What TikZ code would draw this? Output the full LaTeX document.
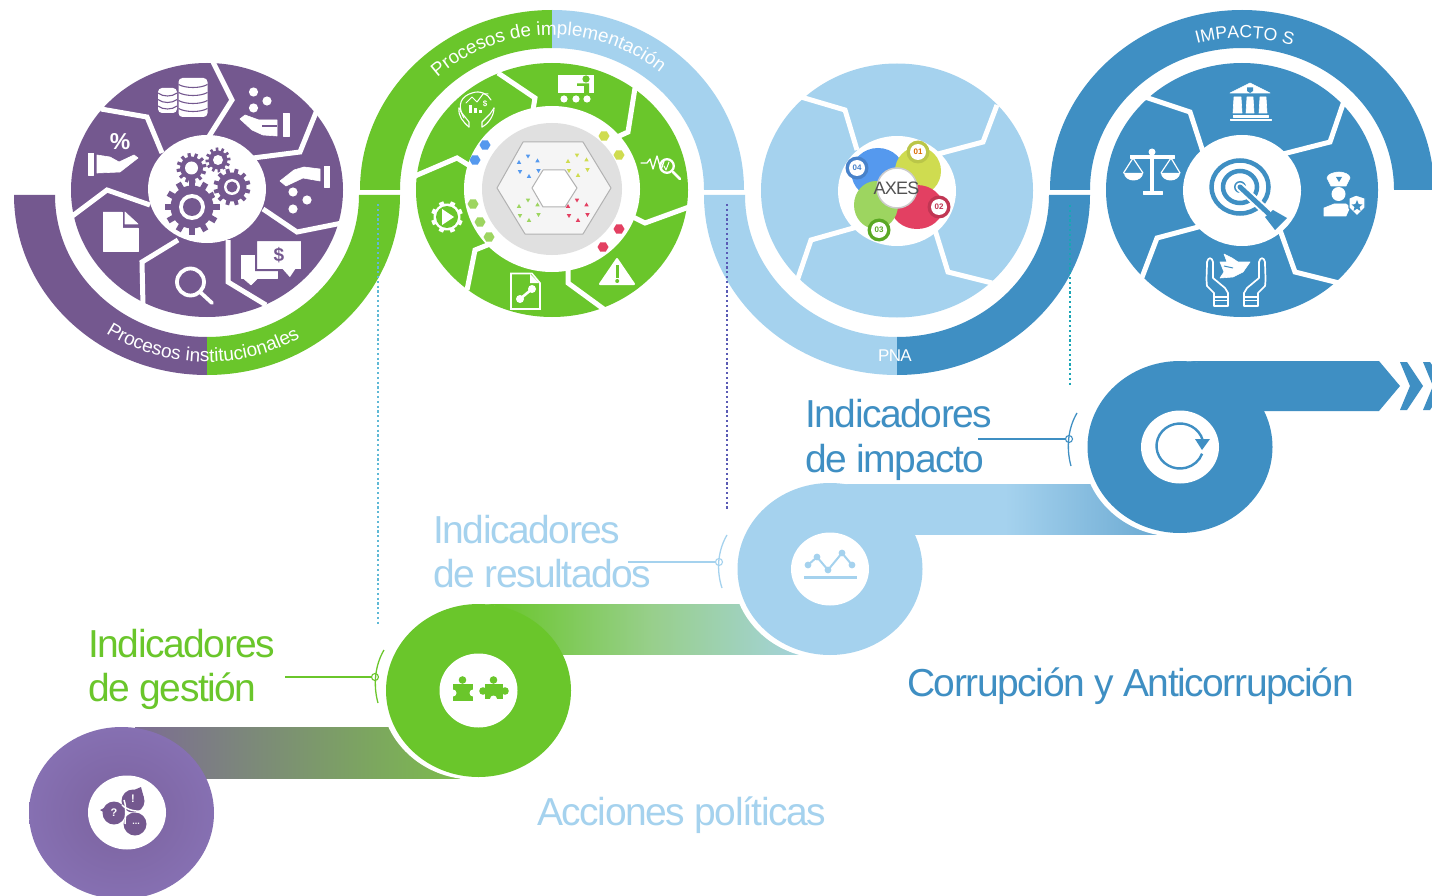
\documentclass[tikz,border=0pt]{standalone}
\usepackage{fontspec}
\setmainfont{Liberation Sans}
\newfontfamily\tight[LetterSpace=-3.7]{Liberation Sans}
\newfontfamily\tighter[LetterSpace=-4]{Liberation Sans}
\usetikzlibrary{decorations.text}
\definecolor{cpur}{HTML}{74588F}
\definecolor{cgre}{HTML}{6AC62B}
\definecolor{clbl}{HTML}{A5D2EE}
\definecolor{cdbl}{HTML}{3F8FC3}
\definecolor{chblue}{HTML}{5599EE}
\definecolor{chyel}{HTML}{CFDC50}
\definecolor{chred}{HTML}{E34062}
\definecolor{chgre}{HTML}{9DD560}
\definecolor{gone}{HTML}{5FB9D6}
\definecolor{gtwo}{HTML}{5B5BB5}
\definecolor{gthree}{HTML}{1AA5B5}
\tikzset{
  sep/.style={draw=white,line width=5pt,line join=miter,line cap=butt},
  ic/.style={fill=white,draw=white,line width=.6pt,line join=round},
  icl/.style={draw=white,line width=#1,line cap=round,line join=round},
  bigtext/.style={font=\fontsize{39}{39}\selectfont\tight,anchor=base west,inner sep=0pt},
  leader/.style={line width=1.3pt},
  ldot/.style={circle,draw=#1,fill=white,line width=1.1pt,minimum size=7pt,inner sep=0pt},
  vdots/.style={line width=1.2pt,dash pattern=on 2.2pt off 2.6pt},
}
\newcommand\band[9]{\fill[#9] ({#1+#3*cos(#7)},{#2-#4*sin(#7)}) arc[start angle=#7,end angle=#8,x radius=#3pt,y radius=#4pt] -- ({#1+#5*cos(#8)},{#2-#6*sin(#8)}) arc[start angle=#8,end angle=#7,x radius=#5pt,y radius=#6pt] -- cycle;}
\newcommand\arctext[8]{\path[decorate,decoration={text along path,text align=center,text={|\fontsize{#7}{#7}\selectfont\color{white}|#8}}] ({#1+#3*cos(#5)},{#2-#4*sin(#5)}) arc[start angle=#5,end angle=#6,x radius=#3pt,y radius=#4pt];}
\newcommand\ovl[5]{\fill[#5] (#1,#2) ellipse[x radius=#3pt,y radius=#4pt];}
\newcommand\gear[6]{% x y R body ring rotation
  \foreach \a in {0,30,60,90,120,150}{\fill[cpur,rotate around={\a+#6:(#1,#2)}] ({#1-#3*.105},{#2-#3}) rectangle ({#1+#3*.105},{#2+#3});}
  \fill[cpur] (#1,#2) circle[radius=#4pt];
  \fill[white] (#1,#2) circle[radius=#5pt];}
\newcommand\hexa[4]{\fill[#4] ({#1-#3},#2) -- ({#1-#3/2},{#2-#3*.85}) -- ({#1+#3/2},{#2-#3*.85}) -- ({#1+#3},#2) -- ({#1+#3/2},{#2+#3*.85}) -- ({#1-#3/2},{#2+#3*.85}) -- cycle;}
\newcommand\triu[3]{\fill[#3] ({#1-2.2},{#2+1.8}) -- (#1,{#2-2}) -- ({#1+2.2},{#2+1.8}) -- cycle;}
\newcommand\trid[3]{\fill[#3] ({#1-2.2},{#2-1.8}) -- (#1,{#2+2}) -- ({#1+2.2},{#2-1.8}) -- cycle;}
\newcommand\cluster[3]{\triu{#1}{#2}{#3}\trid{#1+9}{#2-5.5}{#3}\triu{#1+18.5}{#2-1.5}{#3}\trid{#1+1}{#2+10}{#3}\triu{#1+10}{#2+14}{#3}\trid{#1+19.5}{#2+9}{#3}}
\newcommand\badge[6]{\fill[#3] (#1,#2) circle[radius=11.5pt];\fill[white] ({#1},{#2}) circle[radius=8pt];\node[font=\bfseries\fontsize{8}{8}\selectfont,text=#4,inner sep=0pt] (#5) at (#1,#2) {#6};}
\begin{document}
\begin{tikzpicture}[x=1pt,y=-1pt]
\useasboundingbox (0,0) rectangle (1432,896);
\fill[white] (0,0) rectangle (1432,896);

% ===== outer bands
\band{207}{195}{193}{180}{152}{142}{180}{270}{cpur}
\band{207}{195}{193}{180}{152}{142}{270}{360}{cgre}
\band{552}{190}{192}{180}{152}{142}{90}{180}{cgre}
\band{552}{190}{192}{180}{152}{142}{0}{90}{clbl}
\band{897}{195}{193}{180}{152}{142}{180}{270}{clbl}
\band{897}{195}{193}{180}{152}{142}{270}{360}{cdbl}
\band{1242}{190}{192}{180}{152}{142}{0}{180}{cdbl}

% ===== band texts
\arctext{207}{195}{179}{167}{232}{305}{19}{Procesos institucionales}
\arctext{552}{190}{166}{155}{142}{41}{18.8}{Procesos de implementación}
\arctext{1242}{190}{163}{152}{114}{64}{17.6}{IMPACTO S}
\node[font=\fontsize{17}{17}\selectfont\tighter,text=white,inner sep=0pt] (pna) at (895,356) {PNA};

% ===== pies
\ovl{207}{190}{136}{127}{cpur}
\ovl{552}{190}{136}{127}{cgre}
\ovl{897}{190.5}{136}{127}{clbl}
\ovl{1242}{190}{136}{127}{cdbl}

% separators pie 1
\draw[sep] (213,62)--(232,100)--(208,138);
\draw[sep] (317,110)--(300,152)--(253,158);
\draw[sep] (342,223)--(297,232)--(263,209);
\draw[sep] (266,305)--(228,282)--(228,240);
\draw[sep] (143,306)--(142,262)--(178,240);
\draw[sep] (71,217)--(107,190)--(150,205);
\draw[sep] (101,109)--(147,117)--(162,153);
\ovl{207}{189}{59}{54}{white}
% separators pie 2
\draw[sep] (498,73)--(535,98)--(533,110);
\draw[sep] (635,88)--(628,132)--(615,138);
\draw[sep] (689,207)--(645,223)--(631,216);
\draw[sep] (605,310)--(568,283)--(568,266);
\draw[sep] (467,290)--(475,250)--(490,244);
\draw[sep] (415,176)--(457,158)--(470,166);
\ovl{552}{189}{88}{83}{white}
% separators pie 3
\draw[sep] (801,97)--(845,110)--(857,150);
\draw[sep] (997,105)--(983,142)--(938,154);
\draw[sep] (992,283)--(948,272)--(935,230);
\draw[sep] (796,284)--(811,240)--(857,227);
\ovl{897}{191}{59}{55}{white}
% separators pie 4
\draw[sep] (1145,97)--(1190,112)--(1203,152);
\draw[sep] (1344,101)--(1330,142)--(1283,154);
\draw[sep] (1339,283)--(1295,272)--(1280,230);
\draw[sep] (1141,280)--(1157,238)--(1202,226);
\ovl{1242}{190.5}{59}{55.5}{white}

% ===== pie 1 icons
% coins
\foreach \cx/\top/\bot/\rx in {193/78/117/14.5,167.5/88/113/9.5}{
  \fill[white,rounded corners=4pt] ({\cx-\rx},\top) rectangle ({\cx+\rx},\bot);
}
\foreach \cx/\yy/\rx in {193/86/14.5,193/94/14.5,193/102/14.5,193/110/14.5,167.5/94.5/9.5,167.5/101/9.5,167.5/107.5/9.5}{
  \draw[cpur,line width=1.1pt] ({\cx-\rx},{\yy-1.5}) .. controls ({\cx-\rx/2},{\yy+2.5}) and ({\cx+\rx/2},{\yy+2.5}) .. ({\cx+\rx},{\yy-1.5});
}
% hand with dots above
\foreach \p in {(253.5,92),(267,101),(253.5,108)}{\fill[white] \p circle[radius=4.6pt];}
\fill[ic] (240,119) -- (245,115) -- (259,120) -- (277,120) -- (277,136) -- (263,135) -- (252,130) -- cycle;
\fill[cpur] (262,125) rectangle (277,127);
\fill[ic] (283,113) rectangle (289,136);
% hand with falling dots
\fill[ic] (280,181) -- (294,170) -- (304,167) -- (320,169) -- (320,181) -- (303,178) -- (286,186) -- cycle;
\fill[ic] (324,166) rectangle (329.5,187);
\foreach \p in {(293,192),(307,200),(293,209)}{\fill[white] \p circle[radius=4.6pt];}
% chat $
\fill[ic] (241,255) rectangle (277,278);
\fill[ic] (243,278) -- (251,285) -- (258,278) -- cycle;
\fill[white,draw=cpur,line width=2pt] (256,240) -- (302,240) -- (302,270) -- (296,270) -- (290,279) -- (282,270) -- (256,270) -- cycle;
\node[font=\bfseries\fontsize{19}{19}\selectfont,text=cpur,inner sep=0pt] (dollar) at (279,255) {\$};
% magnifier
\draw[icl=3.8pt] (190.5,282) circle[radius=13.5pt];
\draw[icl=3.8pt] (200,292) -- (212,303);
% document
\fill[ic] (103,212) -- (122,212) -- (122,228) -- (138,228) -- (138,251) -- (103,251) -- cycle;
\fill[ic] (125,212) -- (138,224) -- (125,224) -- cycle;
% percent hand
\fill[ic] (88,153) rectangle (93.5,175);
\fill[ic] (97,155) -- (110,157) -- (119,162) -- (134,155) -- (138,158) -- (120,172) -- (97,173) -- cycle;
\node[font=\bfseries\fontsize{23}{23}\selectfont,text=white,inner sep=0pt] (pct) at (120,142) {\%};
% gears
\gear{192}{207}{27.5}{21.5}{13}{0}\fill[cpur] (192,207) circle[radius=9pt];
\gear{191.5}{168}{15}{11.5}{6.5}{10}
\gear{218}{160}{12.5}{9.5}{5}{5}
\fill[white] (232,187) circle[radius=19.5pt];
\gear{232}{187}{18.5}{14.5}{8}{15}
\fill[cpur] (232,187) circle[radius=5.5pt];

% ===== pie 2 centre
\ovl{552}{189}{70}{66}{black!12}
\fill[black!4,draw=black!30,line width=1pt,line join=round] (497,188)--(523,142)--(583,142)--(611,188)--(583,234)--(525,234)--cycle;
\cluster{519}{162}{chblue}
\cluster{568}{161}{chyel}
\cluster{519}{206}{chgre}
\cluster{568}{206}{chred}
\fill[white,draw=black!30,line width=1pt,line join=round] (532,188)--(543,170)--(565,170)--(577,188)--(565,207)--(543,207)--cycle;
\hexa{485}{145}{5.5}{chblue}\hexa{475}{160}{5.5}{chblue}
\hexa{604}{136}{5.5}{chyel}\hexa{619}{155}{5.5}{chyel}
\hexa{619}{229}{5.5}{chred}\hexa{603}{247}{5.5}{chred}
\hexa{473}{204}{5.5}{chgre}\hexa{480}{222}{5.5}{chgre}\hexa{489}{237}{5.5}{chgre}
% board
\fill[white] (558,75) rectangle (593.5,93);
\fill[cgre] (586,79) circle[radius=3.6pt];
\fill[cgre] (577,83.5) -- (583,83.5) -- (589,83.5) -- (589,93) -- (584,93) -- (584,86) -- (577,86) -- cycle;
\foreach \xx in {564,576,587}{\fill[white] (\xx,99) circle[radius=3.6pt];}
% globe hands
\draw[icl=1.1pt] (464,118) .. controls (456,104) and (462,96) .. (472,93) .. controls (480,90) and (488,94) .. (491,100);
\draw[icl=1.1pt] (469,127) -- (469,122) -- (461,112) -- (459,108) ;
\draw[icl=1.1pt] (469,127) .. controls (463,122) and (458,116) .. (459,108);
\draw[icl=1.1pt] (482,127) -- (482,122) -- (490,114) -- (494,108);
\draw[icl=1.1pt] (482,127) .. controls (488,124) and (494,116) .. (494,108);
\fill[white] (469,105) rectangle (472,113);\fill[white] (474,108) rectangle (477,113);\fill[white] (479,110) rectangle (482,113);
\draw[icl=1pt] (466,103) -- (472,97) -- (477,102) -- (483,94) -- (488,94);
\node[font=\bfseries\fontsize{8}{8}\selectfont,text=white,inner sep=0pt] (gd) at (485,104) {\$};
% wave & lens
\draw[icl=1.3pt] (641,163) -- (647,163) -- (650,159) -- (653,169) -- (657,156) -- (661,170) -- (664,161);
\draw[icl=2.3pt] (667,166) circle[radius=6.8pt];
\draw[icl=2.6pt] (673,172) -- (680,179);
\draw[icl=1pt] (664,166) -- (666,170) -- (669,162);
% warning
\fill[ic,line width=2pt] (617,259) -- (634,284) -- (600,284) -- cycle;
\fill[cgre] (615.5,265) rectangle (619,278);\fill[cgre] (617.2,281) circle[radius=2pt];
% doc link
\draw[icl=1.6pt,line join=miter] (511,273.5) -- (532,273.5) -- (540,283) -- (540,309) -- (511,309) -- cycle;
\fill[white] (530,274) -- (530,283) -- (539,283) -- cycle;
\draw[icl=2.6pt] (520,299) -- (532,289);
\fill[white] (520,299) circle[radius=4pt];\fill[white] (532,289) circle[radius=4pt];
% gear play
\foreach \a in {0,45,90,135}{\fill[white,rotate around={\a+22:(447,217)}] (444.6,201) rectangle (449.4,233);}
\fill[white] (447,217) circle[radius=13.5pt];
\fill[cgre] (447,217) circle[radius=11pt];
\fill[white] (442,209) -- (454,217) -- (442,225) -- cycle;

% ===== AXES cluster
\fill[chblue] (878,173) ellipse[x radius=26.5pt,y radius=25pt];
\fill[chyel] (918,171) ellipse[x radius=23pt,y radius=24pt];
\fill[chred] (917,207) ellipse[x radius=26pt,y radius=22pt];
\fill[chgre] (876,205) ellipse[x radius=22pt,y radius=24pt];
\fill[white,draw=black!20,line width=1.5pt] (897,188) circle[radius=20pt];
\node[font=\fontsize{18}{18}\selectfont\tighter,text=black!68,inner sep=0pt] (axes) at (896.5,188.5) {AXES};
\badge{918}{152}{chyel!90!black}{orange!85!black}{b1}{01}
\badge{939}{207}{chred!85!black}{chred!85!black}{b2}{02}
\badge{879}{230}{cgre!85!black}{cgre!85!black}{b3}{03}
\badge{857}{168}{chblue!85!black}{chblue!85!black}{b4}{04}

% ===== pie 4 icons
% bank
\fill[ic] (1230,93) -- (1250,83) -- (1270,93) -- cycle;
\fill[cdbl] (1247,87.5) -- (1253,87.5) -- (1253,91) -- (1250,93) -- (1247,91) -- cycle;
\fill[ic] (1234,97) -- (1241,97) -- (1242,113) -- (1233,113) -- cycle;
\fill[ic] (1247,97) -- (1253,97) -- (1254,113) -- (1246,113) -- cycle;
\fill[ic] (1260,97) -- (1266,97) -- (1267,113) -- (1259,113) -- cycle;
\fill[ic] (1233,115) rectangle (1268,117);
\fill[ic] (1230,119) rectangle (1271,120.5);
% scales
\fill[ic] (1150.5,152) rectangle (1153.5,191);
\fill[white] (1152,152) circle[radius=3.5pt];
\fill[ic] (1130,155) rectangle (1174,158);
\fill[ic] (1143,191) rectangle (1162,194);
\draw[icl=1.2pt] (1123.5,173) -- (1133,158) -- (1143,173);
\draw[icl=1.2pt] (1161,173) -- (1171,158) -- (1180,173);
\fill[white] (1124,173) arc[start angle=180,end angle=360,x radius=9.5pt,y radius=7.5pt] -- cycle;
\fill[white] (1161,173) arc[start angle=180,end angle=360,x radius=9.5pt,y radius=7.5pt] -- cycle;
% police
\fill[ic] (1327,178) .. controls (1327,174) and (1335,172) .. (1339,172) .. controls (1343,172) and (1350,174) .. (1350,178) -- (1346,186) -- (1331,186) -- cycle;
\fill[cdbl] (1336,177) -- (1342,177) -- (1339,182) -- cycle;
\fill[white] (1338.5,194) ellipse[x radius=7pt,y radius=7pt];
\fill[ic] (1324,216) -- (1324,208) -- (1334,204) -- (1346,204) -- (1350,207) -- (1346,216) -- cycle;
\fill[white,draw=cdbl,line width=1.2pt] (1349,198) -- (1356,195) -- (1365,198) -- (1365,208) -- (1357,216) -- (1349,208) -- cycle;
\fill[cdbl] (1357,200) -- (1358.7,204.2) -- (1362.5,204.4) -- (1359.5,207) -- (1360.5,211) -- (1357,208.7) -- (1353.5,211) -- (1354.5,207) -- (1351.5,204.4) -- (1355.3,204.2) -- cycle;
% dove hands
\foreach \s/\cc in {1/1221,-1/1251}{
 \begin{scope}[shift={(\cc,0)},xscale=\s]
 \draw[icl=1.7pt] (7,306) -- (-7,306) -- (-7,293) -- (-14,286) .. controls (-15,280) and (-14,270) .. (-14,262) .. controls (-13,257) and (-9,257) .. (-8,262) -- (-8,278) -- (4,288) -- (7,293) -- cycle;
 \draw[icl=1.4pt] (-7,297) -- (7,297);
 \draw[icl=1.4pt] (-7,300.5) -- (7,300.5);
 \end{scope}}
\fill[ic] (1220,278) -- (1224,272) -- (1220,262) -- (1227,262) -- (1224,254) -- (1232,258) -- (1238,262) -- (1250,262) -- (1243,272) -- (1233,277) -- cycle;
\draw[cdbl,line width=1pt] (1224,266) -- (1233,268);
% target
\draw[cdbl,line width=4.5pt] (1240,187) ellipse[x radius=28.5pt,y radius=26.5pt];
\draw[cdbl,line width=4.5pt] (1240,187) ellipse[x radius=17pt,y radius=16pt];
\fill[cdbl] (1240,187) circle[radius=6pt];
\draw[white,line width=9pt,line cap=round] (1240,187) -- (1266,211);
\draw[cdbl,line width=5pt,line cap=round] (1240,187) -- (1268,213);
\fill[cdbl] (1265,217) -- (1273,210) -- (1287,218) -- (1275,230) -- cycle;

% ===== dotted guides
\coordinate (g1a) at (378,204);\coordinate (g1b) at (378,625);
\coordinate (g2a) at (727,204);\coordinate (g2b) at (727,511);
\coordinate (g3a) at (1070,205);\coordinate (g3b) at (1070,385);
\draw[vdots,draw=gone] (g1a) -- (g1b);
\draw[vdots,draw=gtwo] (g2a) -- (g2b);
\draw[vdots,draw=gthree] (g3a) -- (g3b);

% ===== swoosh bars
\definecolor{bone}{HTML}{7C6C93}\definecolor{btwo}{HTML}{7CBC4C}
\definecolor{bmid}{HTML}{98CF8C}\definecolor{bend}{HTML}{A5D3E0}
\shade[left color=bone,right color=btwo] (135,727) rectangle (460,778);
\shade[left color=cgre,right color=bend,middle color=bmid] (495,604) rectangle (810,654.5);
\fill[cgre] (478,604) rectangle (495.5,654.5);
\fill[clbl] (830,484) rectangle (840,534);
\shade[left color=clbl,right color=cdbl!80!white,middle color=clbl] (835,484) rectangle (1175,534);
\fill[cdbl] (1180,361) -- (1379,361) -- (1400,386) -- (1379,411) -- (1180,411) -- cycle;
\foreach \dx in {0,23}{\fill[cdbl] ({1400+\dx},362) -- ({1407+\dx},362) -- ({1423+\dx},386) -- ({1407+\dx},410) -- ({1400+\dx},410) -- ({1410+\dx},386) -- cycle;}

% ===== swoosh discs
\definecolor{dpi}{HTML}{7B629E}\definecolor{dpo}{HTML}{8670B2}
\shade[inner color=dpi,outer color=dpo] (121.5,813) ellipse[x radius=92.5pt,y radius=86pt];
\ovl{127}{812.5}{39}{37}{white}
\ovl{473.5}{691.5}{93}{88}{white}
\ovl{478.5}{690.5}{92.5}{86.5}{cgre}
\ovl{478.5}{690.5}{39}{37}{white}
\ovl{825.5}{570.5}{93}{88}{white}
\ovl{830}{569}{92.5}{86}{clbl}
\ovl{830}{569}{39}{36.5}{white}
\ovl{1175.5}{448.5}{93}{88}{white}
\ovl{1180}{447}{92.5}{86}{cdbl}
\ovl{1180}{447}{39}{36.5}{white}

% bubbles icon
\fill[cpur] (141,787) -- (134,790) -- (144,798) -- cycle;
\fill[cpur] (100,810) -- (110,805) -- (110,816) -- cycle;
\fill[cpur] (141,832) -- (133,826) -- (144,824) -- cycle;
\fill[cpur] (133,801) circle[radius=11.5pt];
\fill[cpur] (114,813) circle[radius=11.5pt];
\fill[cpur] (135,824) circle[radius=11.5pt];
\draw[white,line width=1.5pt] (122,805) .. controls (127,810) and (136,812) .. (144,811);
\draw[white,line width=1.5pt] (125,824) .. controls (125,818) and (127,808) .. (124,800);
\node[font=\bfseries\fontsize{11}{11}\selectfont,text=white,inner sep=0pt] (bq) at (114,813) {?};
\node[font=\bfseries\fontsize{11}{11}\selectfont,text=white,inner sep=0pt] (be) at (133,799) {!};
\node[font=\bfseries\fontsize{9}{9}\selectfont,text=white,inner sep=0pt] (bd) at (136,824) {...};
% puzzle
\fill[cgre] (453,684) rectangle (473,701);
\fill[cgre] (462.5,680) circle[radius=3.8pt];
\fill[white] (473,693) circle[radius=3.5pt];
\fill[white] (453,693) circle[radius=3.5pt];
\fill[cgre] (485,684) rectangle (503,699);
\fill[cgre] (493.5,680) circle[radius=3.8pt];
\fill[cgre] (505,691) circle[radius=3.8pt];
\fill[cgre] (483,691) circle[radius=3.8pt];
\fill[white] (493.5,699) circle[radius=3.5pt];
% chart
\draw[clbl,line width=2pt] (808,565) -- (817,557) -- (828,570) -- (842,553) -- (852,565);
\foreach \p in {(808,565),(817,557),(828,570),(842,553),(852,565)}{\fill[clbl] \p circle[radius=3.4pt];}
\fill[clbl] (804,576) rectangle (857,579);
% refresh
\draw[cdbl,line width=2.4pt] ({1180+23.5*cos(15)},{446-22.5*sin(15)}) arc[start angle=15,end angle=340,x radius=23.5pt,y radius=22.5pt];
\fill[cdbl] (1195,439) -- (1210,439) -- (1202,450) -- cycle;

% ===== labels
\node[bigtext,text=cgre] (lg1) at (88,657) {Indicadores};
\node[bigtext,text=cgre] (lg2) at (88,701.5) {de gestión};
\node[bigtext,text=clbl] (lr1) at (433,543) {Indicadores};
\node[bigtext,text=clbl] (lr2) at (433,587.5) {de resultados};
\node[bigtext,text=cdbl] (li1) at (805,427) {Indicadores};
\node[bigtext,text=cdbl] (li2) at (805,472) {de impacto};
\node[bigtext,text=cdbl] (corr) at (907,696.5) {Corrupción y Anticorrupción};
\node[bigtext,text=clbl] (acc) at (537,825.5) {Acciones políticas};

% ===== leaders
\coordinate (lga) at (285,677);
\node[ldot=cgre] (lgd) at (375,677) {};
\draw[leader,cgre] (lga) -- (lgd);
\coordinate (lgb1) at (384,650);\coordinate (lgb2) at (378,703);
\draw[leader,cgre] (lgb1) .. controls (375,665) and (373,685) .. (lgb2);
\coordinate (lra) at (628,562);
\node[ldot=clbl] (lrd) at (719,562) {};
\draw[leader,clbl] (lra) -- (lrd);
\coordinate (lrb1) at (727,535);\coordinate (lrb2) at (722,588);
\draw[leader,clbl] (lrb1) .. controls (718,550) and (716,570) .. (lrb2);
\coordinate (lia) at (978,439);
\node[ldot=cdbl] (lid) at (1069,439) {};
\draw[leader,cdbl] (lia) -- (lid);
\coordinate (lib1) at (1077,413);\coordinate (lib2) at (1071,466);
\draw[leader,cdbl] (lib1) .. controls (1068,428) and (1066,448) .. (lib2);
\end{tikzpicture}
\end{document}
